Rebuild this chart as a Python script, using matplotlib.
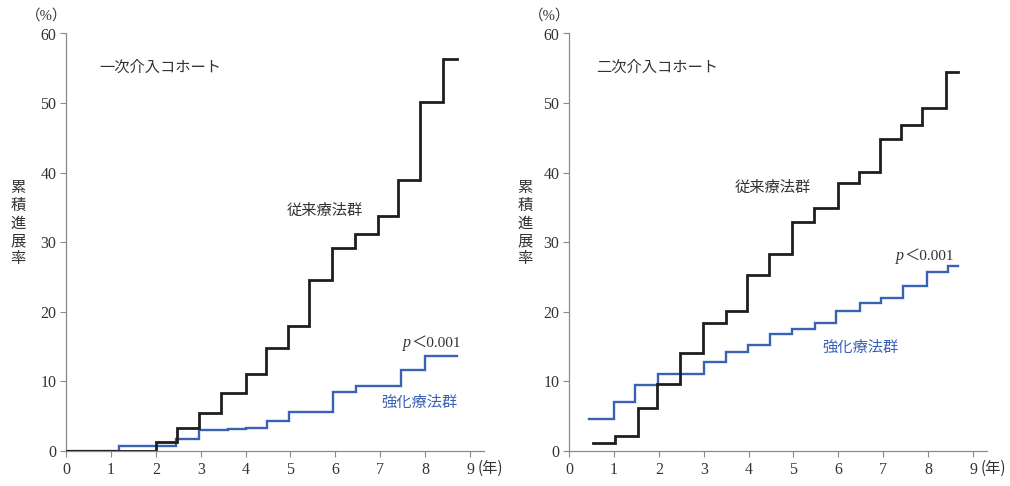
import matplotlib
matplotlib.use("Agg")
import matplotlib.pyplot as plt

# ---- data ----
# left panel: 一次介入コホート
p1_conv_t = [0.0, 2.0, 2.48, 2.97, 3.45, 4.0, 4.45, 4.95, 5.42, 5.93, 6.44, 6.95, 7.4, 7.88, 8.4, 8.7]
p1_conv_v = [0.0, 1.3, 3.2, 5.4, 8.3, 11.1, 14.7, 18.0, 24.5, 29.1, 31.2, 33.7, 38.9, 50.2, 56.3, 56.3]
p1_int_t = [0.0, 1.19, 2.46, 2.97, 3.6, 4.0, 4.47, 4.96, 5.95, 6.46, 7.46, 8.0, 8.7]
p1_int_v = [0.0, 0.7, 1.65, 2.95, 3.05, 3.2, 4.3, 5.6, 8.5, 9.35, 11.6, 13.6, 13.6]

# right panel: 二次介入コホート
p2_conv_t = [0.54, 1.02, 1.53, 1.97, 2.47, 2.99, 3.49, 3.96, 4.45, 4.97, 5.46, 5.98, 6.46, 6.93, 7.39, 7.86, 8.4, 8.66]
p2_conv_v = [1.15, 2.1, 6.1, 9.55, 14.1, 18.3, 20.1, 25.3, 28.3, 32.9, 34.9, 38.5, 40.1, 44.8, 46.8, 49.3, 54.5, 54.5]
p2_int_t = [0.45, 1.0, 1.47, 1.99, 3.0, 3.5, 3.98, 4.48, 4.96, 5.48, 5.95, 6.48, 6.95, 7.43, 7.97, 8.45, 8.67]
p2_int_v = [4.56, 6.95, 9.45, 11.0, 12.8, 14.25, 15.2, 16.75, 17.5, 18.3, 20.1, 21.3, 22.0, 23.7, 25.75, 26.6, 26.6]

x_ticks = list(range(0, 10))
y_ticks = [0, 10, 20, 30, 40, 50, 60]
cohort_titles = ["一次介入コホート", "二次介入コホート"]
conv_label = "従来療法群"
int_label = "強化療法群"
p_letter = "p"
p_text = "＜0.001"
ylabel = "累積進展率"

BLACK = "#1e1e1e"
BLUE = "#3a62b4"
GREY = "#8a8a8a"
TXT = "#333333"
CJK = ["Noto Sans CJK JP", "DejaVu Sans"]
SERIF = ["Liberation Serif", "DejaVu Serif"]
SERIF_CJK = ["Liberation Serif", "Noto Sans CJK JP"]

fig = plt.figure(figsize=(10.10, 4.86), dpi=100)

panels = [
    dict(left=66, ct=p1_conv_t, cv=p1_conv_v, it=p1_int_t, iv=p1_int_v,
         title_xy=(0.75, 55.2), conv_xy=(5.77, 34.6), p_xy=(8.8, 14.9), int_xy=(7.88, 6.9),
         ylab_x=18),
    dict(left=569, ct=p2_conv_t, cv=p2_conv_v, it=p2_int_t, iv=p2_int_v,
         title_xy=(0.6, 55.2), conv_xy=(4.55, 37.9), p_xy=(8.58, 27.4), int_xy=(6.5, 14.9),
         ylab_x=525),
]

W, H = 1010, 486
y0_px, y60_px = 450.7, 33.5
unit = 44.9
xmax = 9.3

p_texts = []
for i, pn in enumerate(panels):
    ax = fig.add_axes([pn["left"] / W, (H - y0_px) / H, xmax * unit / W, (y0_px - y60_px) / H])
    ax.set_xlim(0, xmax)
    ax.set_ylim(0, 60)
    ax.set_facecolor("none")
    for s in ["top", "right"]:
        ax.spines[s].set_visible(False)
    for s in ["left", "bottom"]:
        ax.spines[s].set_color(GREY)
        ax.spines[s].set_linewidth(0.9)
    ax.set_xticks(x_ticks)
    ax.set_yticks(y_ticks)
    ax.tick_params(axis="both", colors=GREY, length=4, width=0.8, labelcolor=TXT, labelsize=11.5)
    ax.tick_params(axis="x", direction="out", pad=4)
    ax.tick_params(axis="y", direction="out", pad=3)
    for lab in ax.get_xticklabels() + ax.get_yticklabels():
        lab.set_family(SERIF)

    ax.step(pn["it"], pn["iv"], where="post", color=BLUE, lw=1.7, solid_joinstyle="miter", zorder=2)
    ax.step(pn["ct"], pn["cv"], where="post", color=BLACK, lw=2.0, solid_joinstyle="miter", zorder=3)

    ax.text(*pn["title_xy"], cohort_titles[i], fontsize=11, color=TXT,
            family=CJK, ha="left", va="center")
    ax.text(*pn["conv_xy"], conv_label, fontsize=11, color=TXT, family=CJK, ha="center", va="center")
    ax.text(*pn["int_xy"], int_label, fontsize=11, color=BLUE, family=CJK, ha="center", va="center")
    t = ax.text(*pn["p_xy"], p_text, fontsize=11, color=TXT, family=SERIF_CJK,
                ha="right", va="baseline")
    p_texts.append((ax, t))

    # y label stacked vertically
    fig.text(pn["ylab_x"] / W, 1 - 223 / H, "\n".join(ylabel), fontsize=11, color=TXT,
             family=CJK, ha="center", va="center", linespacing=1.05)
    # (%) above axis
    fig.text((pn["left"] - 19) / W, 1 - 16 / H, "（%）", fontsize=10.5, color=TXT,
             family=SERIF_CJK, ha="center", va="center")
    # (年) after 9
    ax.text(9.17, -2.6, "(年)", fontsize=11, color=TXT, family=CJK,
            ha="left", va="center", clip_on=False)

# place italic p just left of "＜0.001"
fig.canvas.draw()
renderer = fig.canvas.get_renderer()
for ax, t in p_texts:
    bb = t.get_window_extent(renderer)
    x_disp = bb.x0 - 1
    y_disp = ax.transData.transform(t.get_position())[1]
    xd, yd = ax.transData.inverted().transform((x_disp, y_disp))
    ax.text(xd, yd, p_letter, fontsize=11.5, color=TXT, family=SERIF, style="italic",
            ha="right", va="baseline")

fig.savefig("out.png", dpi=100)
